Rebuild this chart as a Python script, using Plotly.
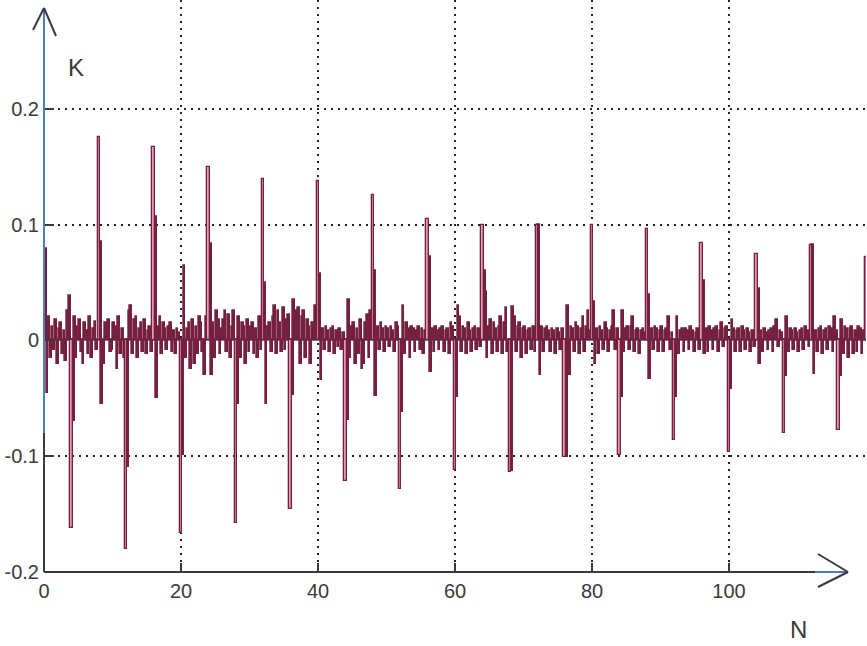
import plotly.graph_objects as go

# autocorrelation K(N): background values every 0.25 lag step (in 1/1000),
# one row per 4-lag block
noise_step = 0.25
noise_k = [
    0, 0, -45, 20, -15, 12, -8, 18, -20, 10, 15, -12, 8, -18, 25, 38,
    0, 0, 20, -15, 12, 18, -10, -20, 15, 8, -12, 20, -15, 10, 16, -8,
    0, 0, -55, -20, 15, 10, 18, -10, -8, 15, 12, -25, 20, -12, 10, -15,
    0, 0, 25, 30, -12, 18, 20, -15, 10, 15, -10, 18, -12, 8, 12, -10,
    0, 0, -50, 12, 20, -12, 15, 10, -8, 12, 15, -10, 8, -12, 10, 6,
    0, 0, 64, -15, 10, 15, -25, 18, -20, 12, -12, 20, 15, -10, -30, 20,
    0, 0, -30, 15, -15, 25, 18, -12, 10, 18, 25, -10, 22, -15, 12, 25,
    0, 0, 20, -15, 15, 12, -20, 18, -10, 12, 15, -12, 10, -15, 20, -8,
    0, 0, -55, 12, 15, -10, 20, 30, -12, 25, 15, -10, 28, -8, 18, 22,
    0, 0, 35, 25, 22, 28, -20, 20, 25, -15, 18, 12, -20, 15, 10, 30,
    0, 0, -34, 10, -8, 12, 8, -10, 10, 12, -12, 8, -6, 10, -8, 6,
    0, 0, 35, -15, 12, 15, -20, 10, -12, 18, -25, -20, 15, 22, -15, 25,
    0, 0, -48, 12, -8, 15, 10, -10, 12, 10, -6, 12, 8, -10, 15, 12,
    0, 0, 30, -12, 15, 10, -15, 12, 10, -10, 8, 12, -8, 10, -12, 8,
    0, 0, -27, 10, -10, 12, 8, -8, 10, 12, -10, 8, 10, -12, 15, 12,
    0, 0, 30, 20, -10, 12, 10, -12, 15, 8, -10, 10, 12, -8, 10, -6,
    0, 0, 42, -15, 12, 18, -12, 15, 10, -10, 12, 20, -12, 15, 28, -10,
    0, 0, 29, 20, -10, 12, 15, -15, 10, 12, -12, 8, 10, -8, 12, -10,
    0, 0, -30, 12, -10, 10, 12, 8, -10, 10, 8, -12, 10, 6, -8, 10,
    0, 0, 30, -30, 12, 10, -10, 15, 12, -12, 10, 20, -10, 12, 25, 8,
    0, 0, -20, 10, -12, 12, 8, -8, 15, 10, -10, 8, 12, 25, -8, 10,
    0, 0, 25, -10, 10, 12, -8, 12, 20, -10, 8, 10, -12, 8, 10, 6,
    0, 0, -33, 10, -8, 12, 10, -10, 8, 12, -10, 8, 10, 20, -8, 6,
    0, 0, 20, -12, 8, 10, -10, 10, 8, -8, 12, 8, -10, 6, 10, -8,
    0, 0, -12, 10, -10, 12, 8, -8, 10, 12, -10, 8, 15, -6, 10, 12,
    0, 0, 18, 10, -10, 8, 10, -10, 12, 8, -8, 10, 6, -10, 8, -6,
    0, 0, -20, 8, -10, 10, 6, -8, 8, 10, -10, 12, 18, -6, 8, 6,
    0, 0, 20, -10, 10, 8, -8, 10, 6, -10, 8, 10, -8, 12, 8, -6,
    0, 0, -29, 8, -10, 10, 12, -12, 8, 10, -8, 12, 10, -10, 20, 8,
    0, 0, 18, -12, 12, 10, -15, 10, 12, -12, 8, -10, 12, 10, -12, 8,
]

# periodic peaks every 4 lags
peak_lags = [0, 4, 8, 12, 16, 20, 24, 28, 32, 36, 40, 44, 48, 52, 56, 60,
             64, 68, 72, 76, 80, 84, 88, 92, 96, 100, 104, 108, 112, 116, 120]
peak_k = [0.139, -0.162, 0.176, -0.180, 0.167, -0.166, 0.150, -0.158,
          0.139, -0.146, 0.138, -0.121, 0.126, -0.128, 0.105, -0.112,
          0.100, -0.114, 0.100, -0.101, 0.100, -0.099, 0.096, -0.086,
          0.084, -0.096, 0.075, -0.080, 0.082, -0.077, 0.072]
# the sample right after each peak
after_k = [0.079, -0.070, 0.085, -0.109, 0.107, -0.099, 0.083, -0.055,
           0.050, -0.047, 0.057, -0.069, 0.060, -0.062, 0.072, -0.049,
           0.060, -0.113, 0.100, -0.101, 0.033, -0.049, 0.039, -0.049,
           0.051, -0.042, 0.044, -0.031, 0.082, -0.031, 0.040]

fill = "#e39db1"
edge = "#74203e"
blue = "#4f7db5"
axis_c = "#3a3a3a"

noise_x = [i * noise_step for i in range(len(noise_k))]
after_x = [l + 0.32 for l in peak_lags]

fig = go.Figure()
fig.add_trace(go.Bar(x=noise_x, y=[v / 1000 for v in noise_k], width=0.25,
                     marker=dict(color=edge, line=dict(color=edge, width=1.7))))
fig.add_trace(go.Bar(x=after_x, y=after_k, width=0.3,
                     marker=dict(color=edge, line=dict(color=edge, width=1.8))))
fig.add_trace(go.Bar(x=peak_lags, y=peak_k, width=0.34,
                     marker=dict(color=fill, line=dict(color=edge, width=1.3))))

# axes drawn by hand as arrows (paper coords: plot area 822 x 572 px)
def px(x):
    return (x - 44) / 822


def py(y):
    return (572 - y) / 572


shapes = [
    dict(x0=0, x1=0, y0=0, y1=0.243, line=dict(color=axis_c, width=2)),
    dict(x0=0, x1=0, y0=0.243, y1=py(8), line=dict(color=blue, width=2)),
    dict(x0=0, x1=px(33), y0=py(8), y1=py(30), line=dict(color=axis_c, width=2)),
    dict(x0=0, x1=px(56), y0=py(8), y1=py(36), line=dict(color=axis_c, width=2)),
    dict(x0=0, x1=px(815), y0=0, y1=0, line=dict(color=axis_c, width=2)),
    dict(x0=px(815), x1=px(848), y0=0, y1=0, line=dict(color=blue, width=2)),
    dict(x0=px(848), x1=px(818), y0=0, y1=py(554), line=dict(color=axis_c, width=2)),
    dict(x0=px(848), x1=px(818), y0=0, y1=py(587), line=dict(color=axis_c, width=2)),
]
for s in shapes:
    s.update(type="line", xref="paper", yref="paper", layer="above")

fig.update_layout(
    width=867, height=646,
    margin=dict(l=44, r=1, t=0, b=74),
    plot_bgcolor="white", paper_bgcolor="white",
    showlegend=False, barmode="overlay", bargap=0,
    font=dict(family="Liberation Sans, Arial, sans-serif", size=20, color=axis_c),
    shapes=shapes,
    annotations=[
        dict(text="K", x=px(76), y=py(68), xref="paper", yref="paper",
             xanchor="center", yanchor="middle", showarrow=False, font=dict(size=24)),
        dict(text="N", x=px(798), y=py(629), xref="paper", yref="paper",
             xanchor="center", yanchor="middle", showarrow=False, font=dict(size=24)),
    ],
)
fig.update_xaxes(range=[0, 120], tickvals=[0, 20, 40, 60, 80, 100, 120],
                 ticktext=["0", "20", "40", "60", "80", "100", ""],
                 ticks="inside", ticklen=9, tickwidth=2, tickcolor=axis_c,
                 showgrid=True, gridcolor="#222222", gridwidth=1.5, griddash="2px,5px",
                 zeroline=False, showline=False, ticklabelstandoff=5)
fig.update_yaxes(range=[-0.2, 0.294], tickvals=[-0.2, -0.1, 0, 0.1, 0.2],
                 ticktext=["-0.2", "-0.1", "0", "0.1", "0.2"],
                 ticks="inside", ticklen=10, tickwidth=2, tickcolor=axis_c,
                 showgrid=True, gridcolor="#222222", gridwidth=1.5, griddash="2px,5px",
                 zeroline=True, zerolinecolor=blue, zerolinewidth=1,
                 showline=False, ticklabelstandoff=4)

fig.write_html("out.html", config={"displayModeBar": False},
               post_script="document.body.style.margin='0px';")
